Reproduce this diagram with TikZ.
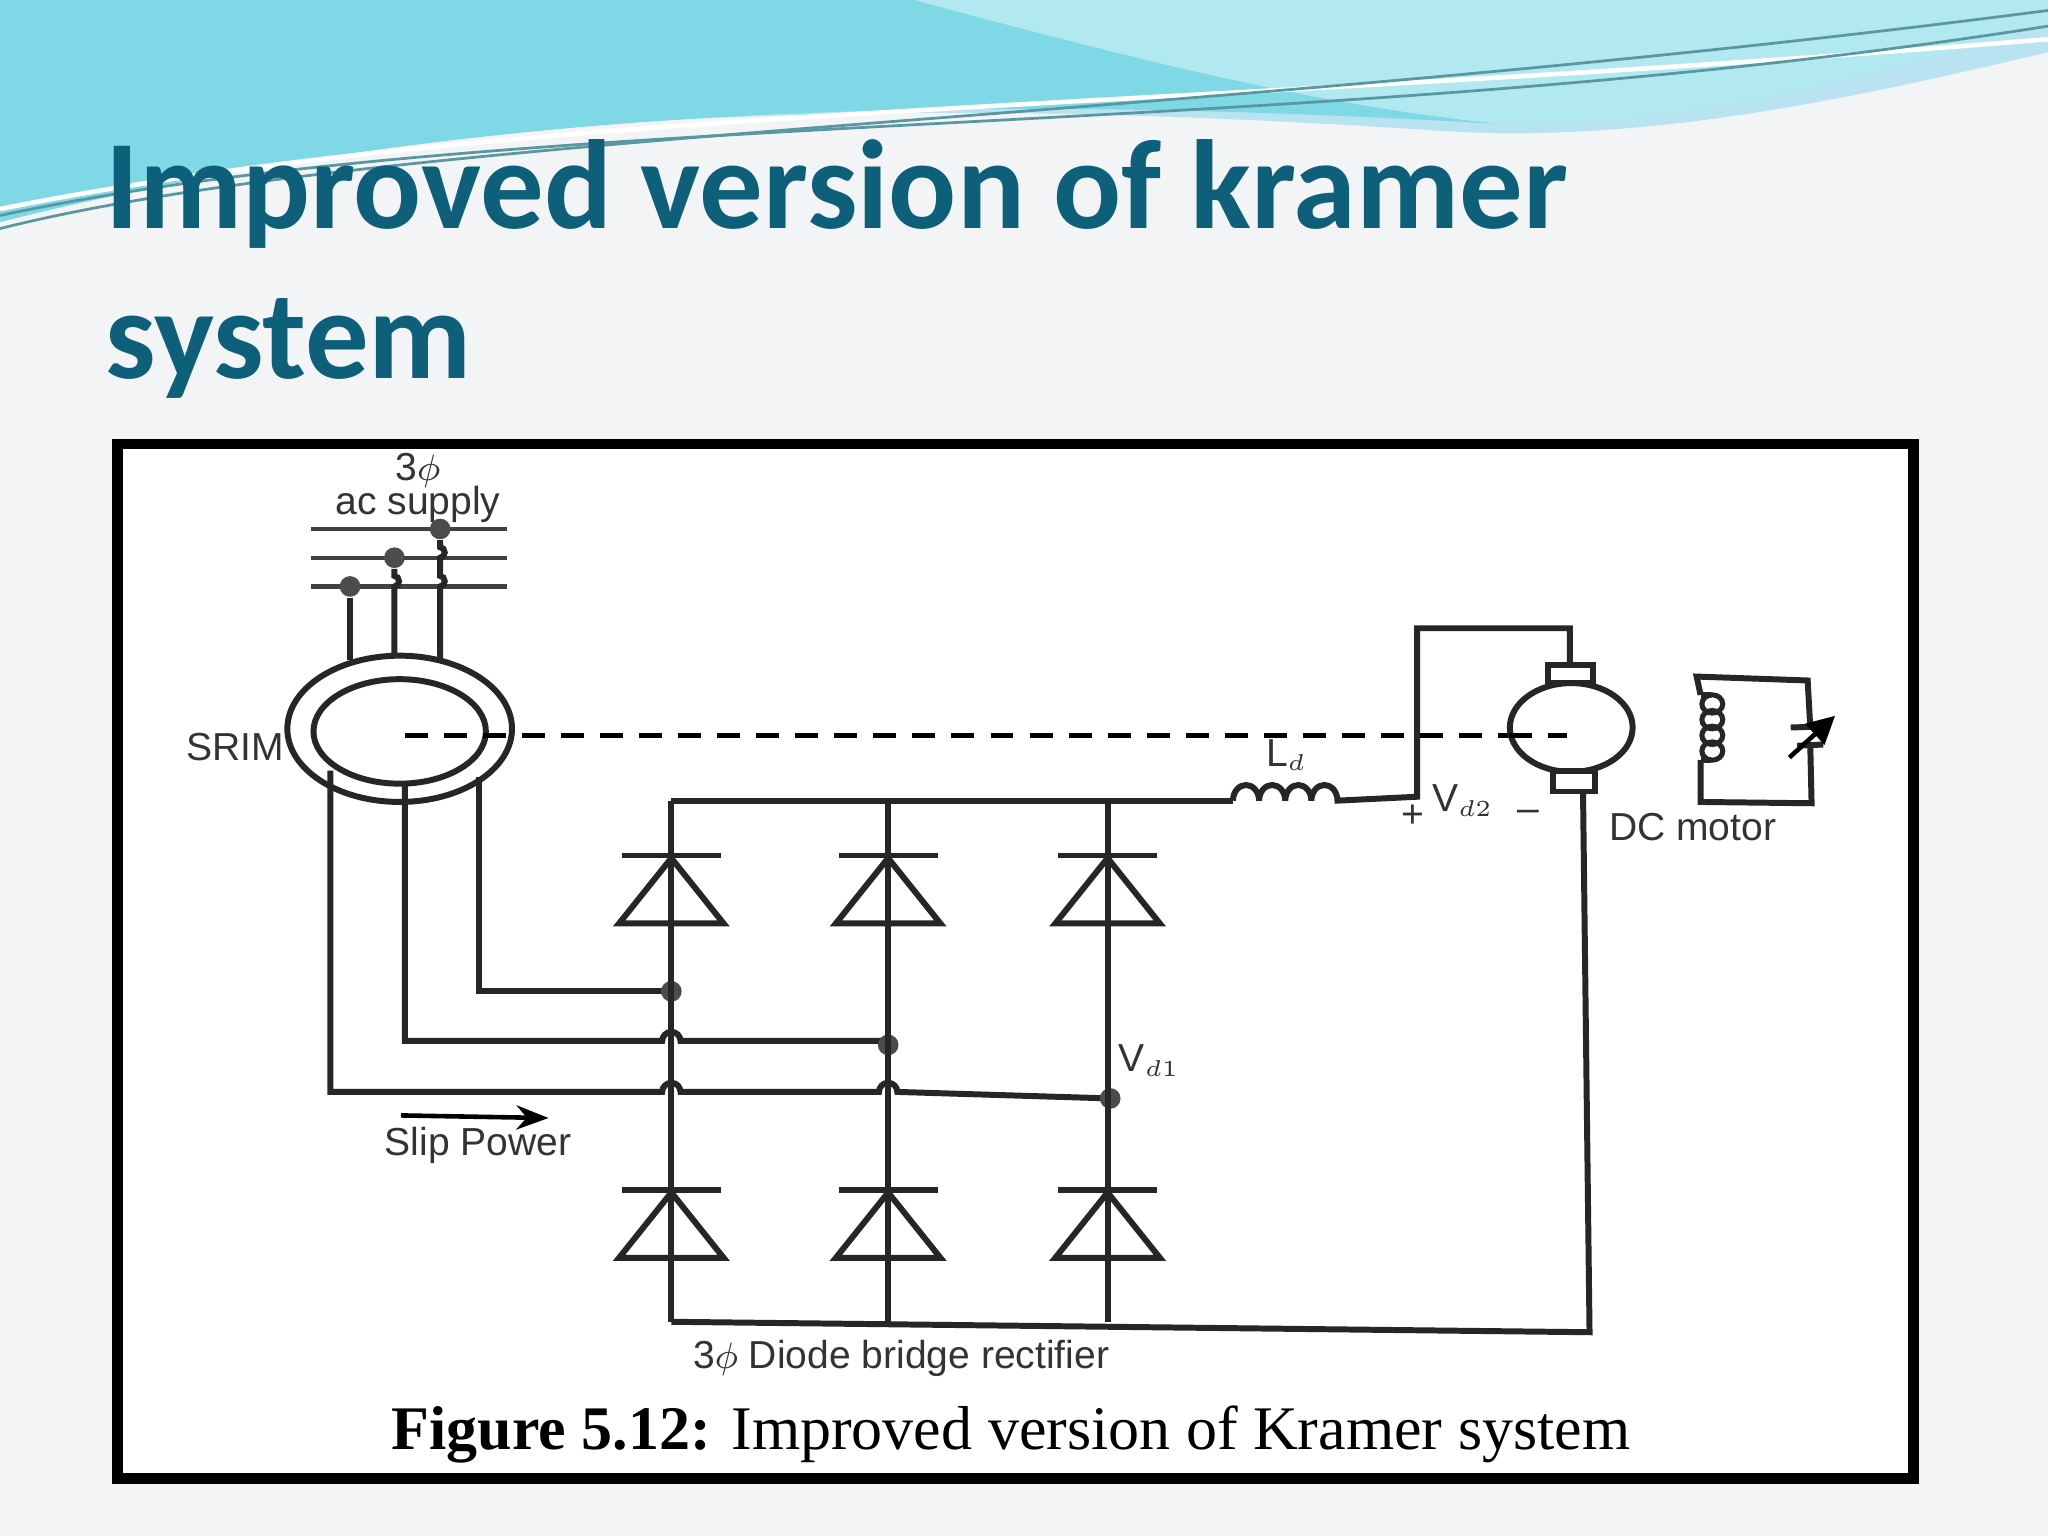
\documentclass[tikz,border=0pt]{standalone}
\usepackage{fontspec}
\setmainfont{Liberation Sans}
\newfontfamily\titlefont{Carlito}
\newfontfamily\capfont{Liberation Serif}
\usetikzlibrary{arrows.meta,calc}
\definecolor{titleteal}{HTML}{0E5F7A}
\definecolor{slidebg}{HTML}{F3F4F5}
\definecolor{wavecyan}{HTML}{7FD8E6}
\definecolor{waveblue}{HTML}{B9E3F0}
\tikzset{
  wire/.style={line width=1.3pt,black!85},
  shaft/.style={line width=1.1pt,dash pattern=on 5pt off 3.5pt},
  lbl/.style={font=\fontsize{8.5}{10}\selectfont,text=black!80,inner sep=0pt},
  dotc/.style={circle,fill=black!70,inner sep=0pt,minimum size=4.5pt},
}
\begin{document}
\begin{tikzpicture}[x=0.01cm,y=-0.01cm]
\useasboundingbox (0,0) rectangle (1568,1176);
\fill[slidebg] (0,0) rectangle (1568,1176);
% header waves
\fill[waveblue] (0,0) -- (1568,0) -- (1568,40) .. controls (1400,80) and (1250,110) .. (1100,100) .. controls (800,80) and (400,70) .. (0,160) -- cycle;
\fill[wavecyan] (0,0) -- (700,0) .. controls (850,40) and (1000,80) .. (1150,95) .. controls (800,75) and (400,70) .. (0,170) -- cycle;
\fill[wavecyan!60!white] (700,0) -- (1568,0) -- (1568,20) .. controls (1450,50) and (1300,100) .. (1150,95) .. controls (1000,80) and (850,40) .. (700,0) -- cycle;
\draw[white,line width=1pt] (0,160) .. controls (400,80) and (900,85) .. (1568,30);
\draw[wavecyan!70!black,line width=0.6pt] (0,175) .. controls (300,100) and (900,95) .. (1568,8);
\draw[wavecyan!70!black,line width=0.6pt] (0,165) .. controls (400,80) and (1000,110) .. (1568,20);
% title
\node[anchor=base west,inner sep=0pt,text=titleteal,font=\titlefont\bfseries\fontsize{27.6}{32}\selectfont] (t1) at (80,175) {Improved version of kramer};
\node[anchor=base west,inner sep=0pt,text=titleteal,font=\titlefont\bfseries\fontsize{27.6}{32}\selectfont] (t2) at (80,290) {system};
% frame
\draw[line width=2.2pt,fill=white] (90,340) rectangle (1465,1132);
% supply
\node[lbl] (s1) at (320,360) {3$\phi$};
\node[lbl] (s2) at (320,386) {ac supply};
\foreach \y/\n in {405/a,427/b,449/c} {
  \coordinate (L\n) at (238,\y); \coordinate (R\n) at (388,\y);
  \draw[line width=0.9pt,black!75] (L\n) -- (R\n);
}
\node[dotc] (d1) at (337,405) {};
\node[dotc] (d2) at (302,427) {};
\node[dotc] (d3) at (268,449) {};
\draw[wire] (d3) -- (268,505);
\draw[wire] (d2) -- (302,441) arc (90:-90:3.5 and -4) -- (302,503);
\draw[wire] (d1) -- (337,419) arc (90:-90:3.5 and -4) -- (337,441) arc (90:-90:3.5 and -4) -- (337,505);
% SRIM
\draw[wire] (306,558) ellipse (86 and 56);
\draw[wire] (306,560) ellipse (66 and 40);
\node[lbl,anchor=east] (srim) at (218,572) {SRIM};
% shaft
\draw[shaft] (310,563) -- (1200,563);
% rotor wires
\draw[wire] (367,595) -- (367,759) -- (514,759);
\draw[wire] (310,600) -- (310,797) -- (507,797) arc (180:360:7) -- (680,797);
\draw[wire] (253,590) -- (253,836) -- (507,836) arc (180:360:7) -- (673,836) arc (180:360:7) -- (850,841);
\node[dotc] (j1) at (514,759) {};
\node[dotc] (j2) at (680,800) {};
\node[dotc] (j3) at (850,841) {};
% columns
\foreach \x in {514,680,848} {
  \draw[wire] (\x,613) -- (\x,1012);
  \draw[wire] (\x-38,655) -- (\x+38,655);
  \draw[wire] (\x,657) -- (\x-40,707) -- (\x+40,707) -- cycle;
  \draw[wire] (\x-38,911) -- (\x+38,911);
  \draw[wire] (\x,913) -- (\x-40,963) -- (\x+40,963) -- cycle;
}
\draw[wire] (514,613) -- (944,613);
\draw[wire] (514,1012) -- (1217,1020) -- (1212,606);
% inductor
\draw[wire] (944,613) arc (180:360:10 and 12) arc (180:360:10 and 12) arc (180:360:10 and 12) arc (180:360:10 and 12) -- (1085,610) -- (1085,481) -- (1202,481) -- (1202,509);
\node[lbl] (ld) at (985,578) {L$_{\scriptscriptstyle d}$};
\node[lbl] (plus) at (1082,625) {+};
\node[lbl] (vd2) at (1120,613) {V$_{\scriptscriptstyle d2}$};
\node[lbl] (minus) at (1170,625) {--};
% DC motor
\draw[wire,fill=white] (1203,557) ellipse (47 and 34);
\draw[wire,fill=white] (1185,509) rectangle (1220,523);
\draw[wire,fill=white] (1189,590) rectangle (1221,606);
\draw[shaft] (1155,563) -- (1200,563);
\node[lbl] (dcm) at (1296,633) {DC motor};
% field
\draw[wire] (1302,532) -- (1299,518) -- (1384,521) -- (1386,557);
\draw[wire] (1386,571) -- (1387,615) -- (1302,614) -- (1302,582);
\draw[wire] (1302,532) -- (1310,532);
\draw[wire] (1302,582) -- (1310,582);
\foreach \yy in {539,551,563,575} \draw[line width=1.1pt,black!85] (1311,\yy) ellipse (8 and 7);
\draw[wire] (1371,557) -- (1401,556);
\draw[wire] (1376,571) -- (1396,570);
\draw[line width=1pt,-{Triangle[length=6pt,width=6pt]}] (1370,580) -- (1405,548);
% diode bridge labels
\node[lbl] (vd1) at (880,812) {V$_{\scriptscriptstyle d1}$};
\draw[line width=1pt,-{Stealth[length=7pt]}] (307,854) -- (420,856);
\node[lbl] (slip) at (366,877) {Slip Power};
\node[lbl] (rect) at (690,1040) {3$\phi$ Diode bridge rectifier};
\node[anchor=base,inner sep=0pt,font=\capfont\fontsize{13.5}{15}\selectfont] (cap) at (774,1110) {\textbf{Figure 5.12:} Improved version of Kramer system};
\end{tikzpicture}
\end{document}
